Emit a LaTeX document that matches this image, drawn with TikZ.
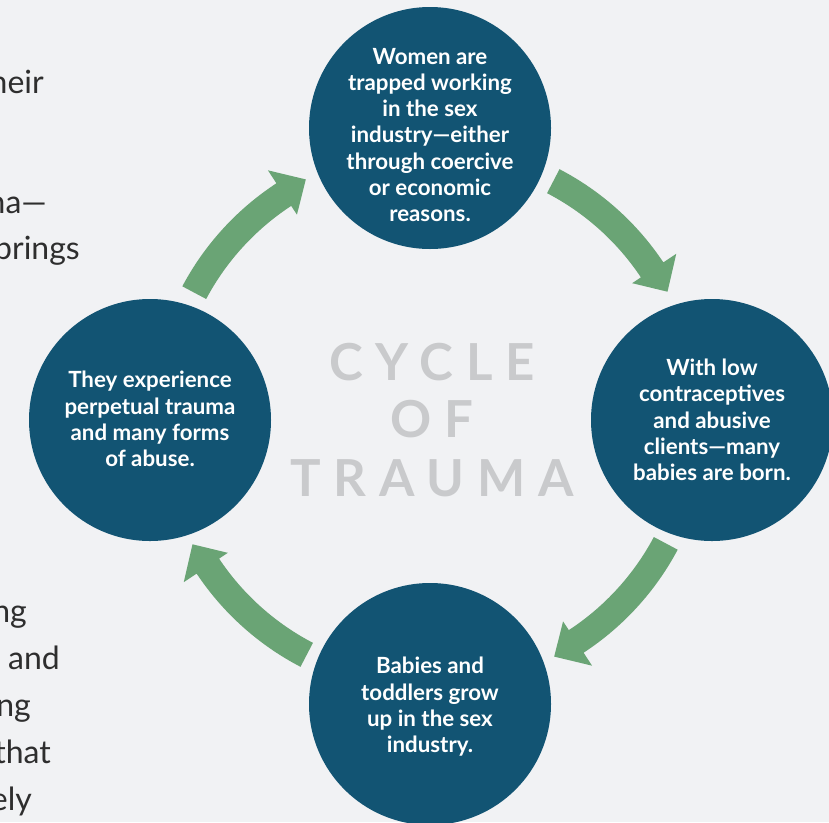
\documentclass[tikz,border=0pt]{standalone}
\usepackage{fontspec}
\setmainfont{Lato}
\newfontfamily\titlefont[LetterSpace=25]{Lato}
\definecolor{bgcol}{HTML}{F1F2F4}
\definecolor{circblue}{HTML}{125473}
\definecolor{arrowgreen}{HTML}{6AA475}
\definecolor{titlegrey}{HTML}{C9CACC}
\definecolor{bodygrey}{HTML}{2E2E2E}
\tikzset{
  stage/.style={circle, fill=circblue, minimum size=242pt, inner sep=0pt},
  stagetext/.style={text=white, align=center, inner sep=0pt, font=\bfseries\fontsize{22.3}{26.3}\selectfont},
  bodytext/.style={text=bodygrey, anchor=base east, inner sep=0pt, font=\fontsize{32}{38}\selectfont},
  titletext/.style={text=titlegrey, anchor=base, inner sep=0pt, font=\titlefont\bfseries\fontsize{51}{58}\selectfont},
  cyclearrow/.style={fill=arrowgreen}
}
\newcommand\cycarrow[2]{%
  \pgfmathsetmacro\hb{#2+5.7}%
  \fill[cyclearrow] (#1:280.5pt) arc[start angle=#1, end angle=\hb, radius=280.5pt]
    -- (\hb:296pt) -- (#2:269pt) -- (\hb:243pt) -- (\hb:253.5pt)
    arc[start angle=\hb, end angle=#1, radius=253.5pt] -- cycle;}
\begin{document}
\begin{tikzpicture}[x=1pt,y=1pt]
\useasboundingbox (0,0) rectangle (829,-822);
\fill[bgcol] (0,0) rectangle (829,-822);
\clip (0,0) rectangle (829,-822);

% cropped body text on the left
\node[bodytext] (f1) at (44,-93) {heir};
\node[bodytext] (f2) at (47,-213) {ma—};
\node[bodytext] (f3) at (80,-259) {prings};
\node[bodytext] (f4) at (27,-622) {ng};
\node[bodytext] (f5) at (60,-669) {and};
\node[bodytext] (f6) at (31,-716) {ng};
\node[bodytext] (f7) at (51,-763) {that};
\node[bodytext] (f8) at (32,-810) {ely};

% arrows
\begin{scope}[shift={(430,-418)}]
\cycarrow{152}{117.5}
\cycarrow{62.5}{28}
\cycarrow{-28}{-62.5}
\cycarrow{-117.5}{-152}
\end{scope}

% stages
\node[stage] (top) at (430,-128) {};
\node[stage] (right) at (712,-420) {};
\node[stage] (bottom) at (430,-704) {};
\node[stage] (left) at (150,-420) {};

\node[stagetext] (toptext) at (430,-135) {Women are\\trapped working\\in the sex\\industry—either\\through coercive\\or economic\\reasons.};
\node[stagetext] (righttext) at (712,-420) {With low\\contraceptives\\and abusive\\clients—many\\babies are born.};
\node[stagetext] (bottomtext) at (430,-707) {Babies and\\toddlers grow\\up in the sex\\industry.};
\node[stagetext] (lefttext) at (150,-419) {They experience\\perpetual trauma\\and many forms\\of abuse.};

% title
\node[titletext] (t1) at (432,-380) {CYCLE};
\node[titletext] (t2) at (432,-437) {OF};
\node[titletext] (t3) at (432,-496) {TRAUMA};
\end{tikzpicture}
\end{document}
